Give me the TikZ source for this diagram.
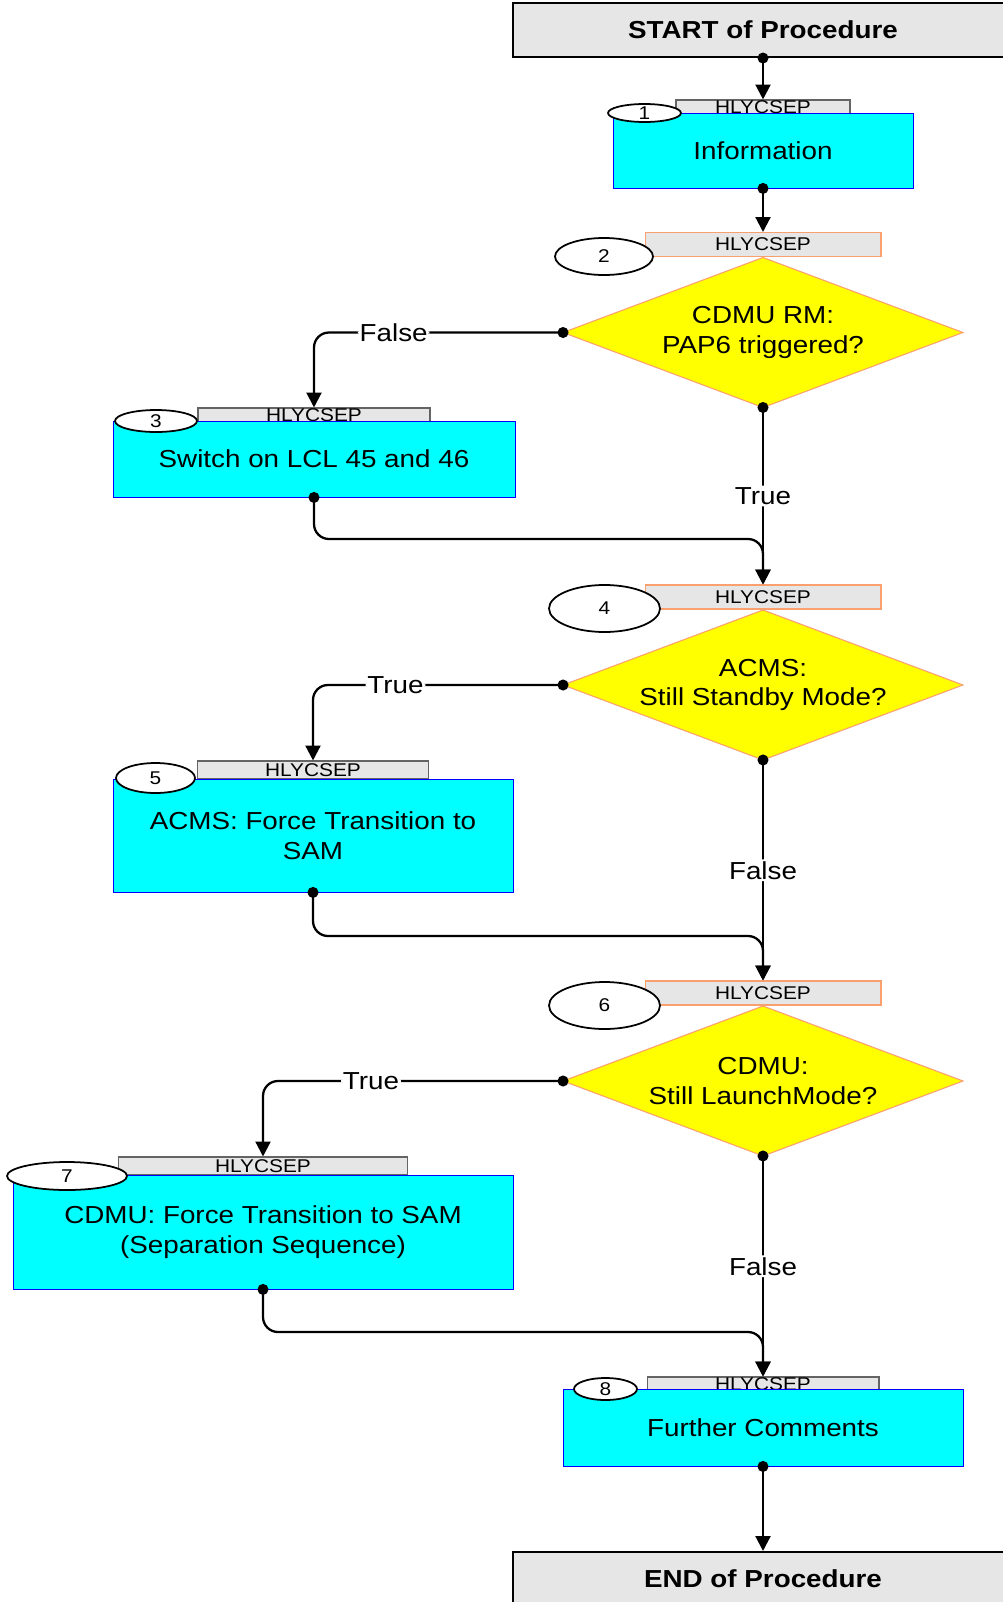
\documentclass[tikz,border=0pt]{standalone}
\usepackage{fontspec}
\setmainfont{Liberation Sans}[FakeStretch=1.13]
\usetikzlibrary{shapes.geometric,arrows.meta}
\definecolor{tabgray}{RGB}{230,230,230}
\definecolor{tabline}{RGB}{100,100,100}
\definecolor{decline}{RGB}{250,160,110}
\definecolor{actfill}{RGB}{0,255,255}
\definecolor{actline}{RGB}{0,0,255}
\definecolor{decfill}{RGB}{255,255,0}

\begin{document}
\begin{tikzpicture}[x=0.02cm, y=-0.02cm,
    every node/.style={font=\fontsize{14}{17}\selectfont},
    endbox/.style={draw=black, line width=1.2pt, fill=tabgray, minimum width=10cm, minimum height=1.08cm, font=\fontsize{14}{17}\selectfont\bfseries},
    actbox/.style={draw=actline, line width=0.5pt, fill=actfill, inner sep=0pt, align=center},
    boxtab/.style={draw=tabline, line width=0.6pt, fill=tabgray, inner sep=0pt, minimum height=0.3cm, font=\fontsize{10.5}{12}\selectfont},
    dectab/.style={draw=decline, line width=0.6pt, fill=tabgray, inner sep=0pt, minimum width=4.72cm, minimum height=0.48cm, font=\fontsize{10.5}{12}\selectfont},
    decbox/.style={diamond, shape aspect=2.67, draw=decline, line width=0.6pt, fill=decfill, minimum width=8cm, minimum height=3cm, inner sep=0pt, outer sep=0pt, align=center},
    numtag/.style={ellipse, draw=black, line width=1pt, fill=white, inner sep=0pt, font=\fontsize{10.5}{12}\selectfont},
    flow/.style={line width=1.3pt, rounded corners=0.3cm, shorten <=-3.1pt, {Circle[length=6.2pt]}-{Triangle[length=8.5pt, width=8.5pt]}},
    lbl/.style={fill=white, inner sep=1pt}]
    \useasboundingbox (0,0) rectangle (1003,1602) ;
    \clip (0,0) rectangle (1003,1602) ;

    \node [endbox] (start) at (763,30) {START of Procedure} ;

    \node [boxtab, minimum width=3.48cm] (tab1) at (763,107.5) {HLYCSEP} ;
    \node [actbox, minimum width=6cm, minimum height=1.5cm] (info) at (763,150.5) {Information} ;
    \node [numtag, minimum width=1.46cm, minimum height=0.36cm] (num1) at (644.5,113) {1} ;

    \node [dectab] (tab2) at (763,244.5) {HLYCSEP} ;
    \node [decbox] (dec2) at (763,332.5) {CDMU RM:\\PAP6 triggered?} ;
    \node [numtag, minimum width=1.96cm, minimum height=0.74cm] (num2) at (604,256.5) {2} ;

    \node [boxtab, minimum width=4.64cm] (tab3) at (314,415.5) {HLYCSEP} ;
    \node [actbox, minimum width=8.04cm, minimum height=1.52cm] (box3) at (314,459) {Switch on LCL 45 and 46} ;
    \node [numtag, minimum width=1.64cm, minimum height=0.44cm] (num3) at (156,421) {3} ;

    \node [dectab] (tab4) at (763,597) {HLYCSEP} ;
    \node [decbox] (dec4) at (763,685) {ACMS:\\Still Standby Mode?} ;
    \node [numtag, minimum width=2.22cm, minimum height=0.94cm] (num4) at (604.5,608.5) {4} ;

    \node [boxtab, minimum width=4.62cm, minimum height=0.36cm] (tab5) at (313,770) {HLYCSEP} ;
    \node [actbox, minimum width=8cm, minimum height=2.26cm] (box5) at (313,835.5) {ACMS: Force Transition to\\SAM} ;
    \node [numtag, minimum width=1.58cm, minimum height=0.6cm] (num5) at (155.5,778) {5} ;

    \node [dectab] (tab6) at (763,993) {HLYCSEP} ;
    \node [decbox] (dec6) at (763,1081) {CDMU:\\Still LaunchMode?} ;
    \node [numtag, minimum width=2.22cm, minimum height=0.94cm] (num6) at (604.5,1005.5) {6} ;

    \node [boxtab, minimum width=5.78cm, minimum height=0.36cm] (tab7) at (263,1166) {HLYCSEP} ;
    \node [actbox, minimum width=10cm, minimum height=2.28cm] (box7) at (263,1232) {CDMU: Force Transition to SAM\\(Separation Sequence)} ;
    \node [numtag, minimum width=2.4cm, minimum height=0.56cm] (num7) at (67,1176) {7} ;

    \node [boxtab, minimum width=4.64cm] (tab8) at (763,1384.5) {HLYCSEP} ;
    \node [actbox, minimum width=8cm, minimum height=1.54cm] (box8) at (763,1427.5) {Further Comments} ;
    \node [numtag, minimum width=1.26cm, minimum height=0.44cm] (num8) at (605.5,1389) {8} ;

    \node [endbox] (end) at (763,1579) {END of Procedure} ;

    \coordinate (join3) at (763,539) ;
    \coordinate (join5) at (763,936) ;
    \coordinate (join7) at (763,1332) ;

    \draw [flow] (start.south) -- (tab1.north) ;
    \draw [flow] (info.south) -- (tab2.north) ;
    \draw [flow] (dec2.west) -| node [lbl, pos=0.34] {False} (tab3.north) ;
    \draw [flow] (dec2.south) -- node [lbl] {True} (tab4.north) ;
    \draw [flow] (box3.south) |- (join3) -- (tab4.north) ;
    \draw [flow] (dec4.west) -| node [lbl, pos=0.335] {True} (tab5.north) ;
    \draw [flow] (dec4.south) -- node [lbl] {False} (tab6.north) ;
    \draw [flow] (box5.south) |- (join5) -- (tab6.north) ;
    \draw [flow] (dec6.west) -| node [lbl, pos=0.32] {True} (tab7.north) ;
    \draw [flow] (dec6.south) -- node [lbl] {False} (tab8.north) ;
    \draw [flow] (box7.south) |- (join7) -- (tab8.north) ;
    \draw [flow] (box8.south) -- (end.north) ;
\end{tikzpicture}
\end{document}
